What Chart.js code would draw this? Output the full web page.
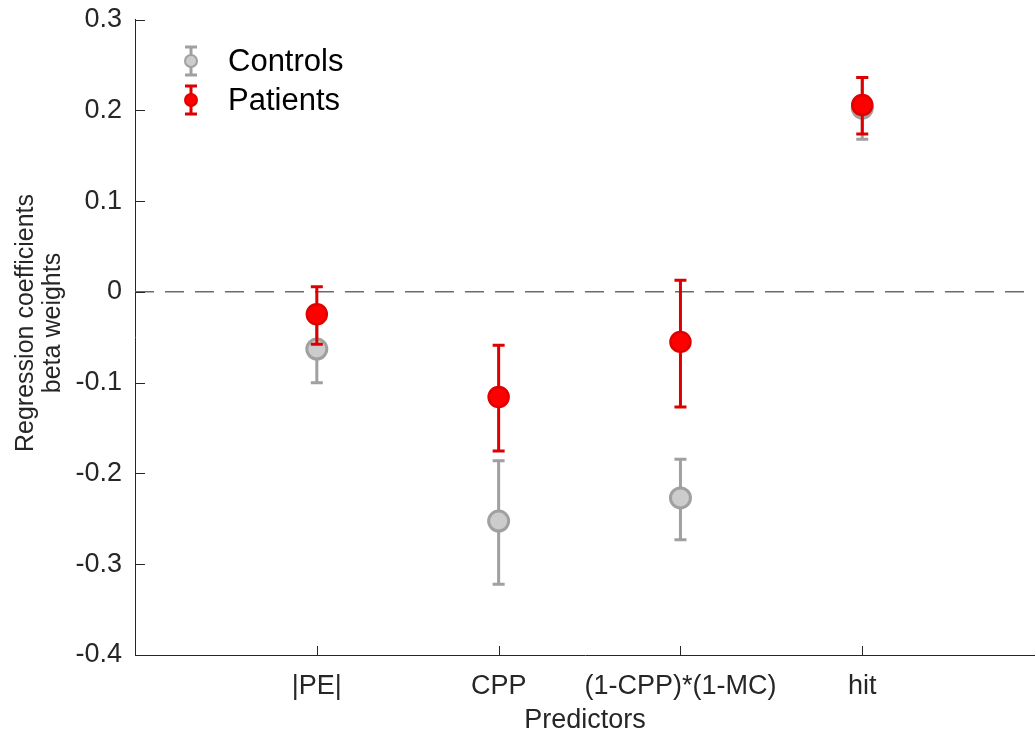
<!DOCTYPE html>
<html>
<head>
<meta charset="utf-8">
<script src="https://cdn.jsdelivr.net/npm/chart.js@4.4.0/dist/chart.umd.min.js"></script>
<style>
    html, body { margin: 0; padding: 0; background: #fff; overflow: hidden; }
    #wrap { width: 1035px; height: 731px; }
    canvas { display: block; }
</style>
</head>
<body>
<div id="wrap"><canvas id="grafico"></canvas></div>
<script>
// dados
const predictors = ['|PE|', 'CPP', '(1-CPP)*(1-MC)', 'hit'];
const posicoes = [1, 2, 3, 4];
const controlsMean = [-0.063, -0.2525, -0.227, 0.2025];
const controlsLow = [-0.100, -0.322, -0.273, 0.168];
const controlsHigh = [-0.026, -0.186, -0.1845, 0.236];
const patientsMean = [-0.0246, -0.1158, -0.0551, 0.2058];
const patientsLow = [-0.0577, -0.1753, -0.1268, 0.1739];
const patientsHigh = [0.0055, -0.0588, 0.0129, 0.236];
const yTicks = [-0.4, -0.3, -0.2, -0.1, 0, 0.1, 0.2, 0.3];
const yTitle = ['Regression coefficients', 'beta weights'];
const xTitle = 'Predictors';

const corEixo = '#262626';
const fonte = 'Helvetica, "Liberation Sans", Arial, sans-serif';

const errorBars = {
    id: 'errorBars',
    beforeDatasetDraw(chart, args) {
        const ds = chart.data.datasets[args.index];
        if (!ds.errLow) return;
        const ctx = chart.ctx;
        const x = chart.scales.x, y = chart.scales.y;
        ctx.save();
        ctx.strokeStyle = ds.errColor;
        ctx.lineWidth = 3;
        ds.data.forEach((p, i) => {
            const px = x.getPixelForValue(p.x);
            const y1 = y.getPixelForValue(ds.errLow[i]);
            const y2 = y.getPixelForValue(ds.errHigh[i]);
            ctx.beginPath();
            ctx.moveTo(px, y1); ctx.lineTo(px, y2);
            ctx.moveTo(px - 6, y1); ctx.lineTo(px + 6, y1);
            ctx.moveTo(px - 6, y2); ctx.lineTo(px + 6, y2);
            ctx.stroke();
        });
        ctx.restore();
    }
};

const extras = {
    id: 'extras',
    afterDraw(chart) {
        const ctx = chart.ctx;
        const a = chart.chartArea;
        const x = chart.scales.x, y = chart.scales.y;
        ctx.save();
        // ticks para dentro
        ctx.strokeStyle = corEixo;
        ctx.lineWidth = 1;
        ctx.beginPath();
        yTicks.forEach(v => {
            const py = Math.round(y.getPixelForValue(v)) + 0.5;
            ctx.moveTo(a.left, py); ctx.lineTo(a.left + 10, py);
        });
        posicoes.forEach(v => {
            const px = Math.round(x.getPixelForValue(v)) + 0.5;
            ctx.moveTo(px, a.bottom); ctx.lineTo(px, a.bottom - 9);
        });
        ctx.stroke();

        // titulo do eixo y
        ctx.fillStyle = corEixo;
        ctx.font = '25px ' + fonte;
        ctx.textAlign = 'center';
        ctx.textBaseline = 'middle';
        ctx.translate(26, 323);
        ctx.rotate(-Math.PI / 2);
        ctx.fillText(yTitle[0], 0, 0);
        ctx.fillText(yTitle[1], 0, 27);
        ctx.restore();

        // legenda
        ctx.save();
        const itens = [chart.data.datasets[1], chart.data.datasets[2]];
        const ys = [61, 100];
        itens.forEach((ds, i) => {
            const cx = 191, cy = ys[i];
            ctx.strokeStyle = ds.errColor;
            ctx.lineWidth = 3;
            ctx.beginPath();
            ctx.moveTo(cx, cy - 14); ctx.lineTo(cx, cy + 14);
            ctx.moveTo(cx - 6, cy - 14); ctx.lineTo(cx + 6, cy - 14);
            ctx.moveTo(cx - 6, cy + 14); ctx.lineTo(cx + 6, cy + 14);
            ctx.stroke();
            ctx.beginPath();
            ctx.arc(cx, cy, 6, 0, Math.PI * 2);
            ctx.fillStyle = ds.backgroundColor;
            ctx.fill();
            ctx.lineWidth = 2;
            ctx.strokeStyle = ds.borderColor;
            ctx.stroke();
            ctx.fillStyle = '#000';
            ctx.font = '31px ' + fonte;
            ctx.textAlign = 'left';
            ctx.textBaseline = 'middle';
            ctx.fillText(ds.label, 228, cy + 1);
        });
        ctx.restore();
    }
};

const ctx = document.getElementById('grafico').getContext('2d');
new Chart(ctx, {
    type: 'scatter',
    data: {
        datasets: [{
            type: 'line',
            label: 'zero',
            data: [{ x: 0, y: 0 }, { x: 4.95, y: 0 }],
            borderColor: '#6b6b6b',
            borderWidth: 1.5,
            borderDash: [19, 11],
            pointRadius: 0,
            order: 3
        }, {
            label: 'Controls',
            data: posicoes.map((p, i) => ({ x: p, y: controlsMean[i] })),
            errLow: controlsLow,
            errHigh: controlsHigh,
            errColor: '#a0a0a0',
            backgroundColor: '#cccccc',
            borderColor: '#a0a0a0',
            borderWidth: 3,
            pointRadius: 10,
            clip: false,
            order: 2
        }, {
            label: 'Patients',
            data: posicoes.map((p, i) => ({ x: p, y: patientsMean[i] })),
            errLow: patientsLow,
            errHigh: patientsHigh,
            errColor: '#dd0000',
            backgroundColor: '#ff0000',
            borderColor: '#e00000',
            borderWidth: 2.5,
            pointRadius: 10,
            clip: false,
            order: 1
        }]
    },
    options: {
        responsive: true,
        maintainAspectRatio: false,
        animation: false,
        layout: { autoPadding: false, padding: { top: 19.5, left: 0, right: 0, bottom: 0 } },
        plugins: {
            legend: { display: false },
            tooltip: { enabled: false }
        },
        scales: {
            x: {
                type: 'linear',
                min: 0,
                max: 4.95,
                grid: { display: false, drawTicks: false },
                border: { display: true, color: corEixo, width: 1 },
                afterBuildTicks: s => { s.ticks = posicoes.map(v => ({ value: v })); },
                afterFit: s => { s.height = 76; s.paddingLeft = 0; s.paddingRight = 0; },
                ticks: {
                    padding: 15,
                    color: corEixo,
                    font: { family: fonte, size: 27 },
                    maxRotation: 0,
                    callback: v => predictors[posicoes.indexOf(v)]
                },
                title: {
                    display: true,
                    text: xTitle,
                    color: corEixo,
                    font: { family: fonte, size: 27 },
                    padding: { top: 0, bottom: -6 }
                }
            },
            y: {
                min: -0.4,
                max: 0.3,
                grid: { display: false, drawTicks: false },
                border: { display: true, color: corEixo, width: 1 },
                afterBuildTicks: s => { s.ticks = yTicks.map(v => ({ value: v })); },
                afterFit: s => { s.width = 135; s.paddingTop = 0; s.paddingBottom = 0; },
                ticks: {
                    padding: 13,
                    color: corEixo,
                    font: { family: fonte, size: 27 },
                    callback: v => String(v)
                }
            }
        }
    },
    plugins: [errorBars, extras]
});
</script>
</body>
</html>
